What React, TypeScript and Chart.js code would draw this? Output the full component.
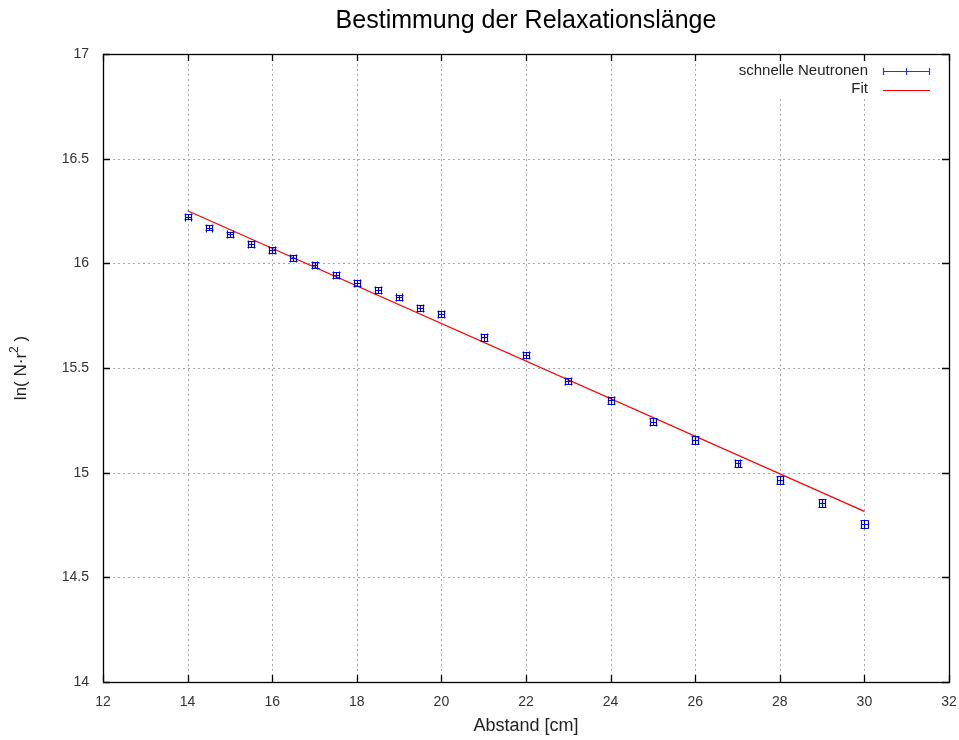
import React, { useEffect, useRef } from "react";
import { Chart, registerables } from "chart.js";

Chart.register(...registerables);

const xValues = [14, 14.5, 15, 15.5, 16, 16.5, 17, 17.5, 18, 18.5, 19, 19.5, 20, 21, 22, 23, 24, 25, 26, 27, 28, 29, 30];
const yValues = [16.223, 16.17, 16.139, 16.092, 16.064, 16.025, 15.993, 15.943, 15.904, 15.871, 15.837, 15.785, 15.758, 15.646, 15.563, 15.438, 15.345, 15.243, 15.156, 15.044, 14.965, 14.856, 14.753];
const xErrors = [0.07, 0.07, 0.07, 0.07, 0.07, 0.07, 0.07, 0.07, 0.07, 0.07, 0.07, 0.07, 0.07, 0.07, 0.07, 0.07, 0.07, 0.07, 0.07, 0.07, 0.07, 0.07, 0.08];
const yErrors = [0.013, 0.013, 0.013, 0.013, 0.013, 0.013, 0.014, 0.014, 0.014, 0.014, 0.014, 0.014, 0.015, 0.015, 0.015, 0.016, 0.016, 0.016, 0.017, 0.017, 0.018, 0.018, 0.019];
const fitX = [14, 30];
const fitY = [16.251, 14.815];
const xTicks = [12, 14, 16, 18, 20, 22, 24, 26, 28, 30, 32];
const yTicks = [14, 14.5, 15, 15.5, 16, 16.5, 17];

const TITLE = "Bestimmung der Relaxationslänge";
const XLABEL = "Abstand [cm]";
const YLABEL_MAIN = "ln( N·r";
const YLABEL_SUP = "2";
const YLABEL_END = " )";
const SERIES1 = "schnelle Neutronen";
const SERIES2 = "Fit";

const BLUE = "#0000d0";
const RED = "#ff0000";
const FONT = "'Liberation Sans', Arial, sans-serif";

const gnuplotPlugin = {
  id: "gnuplotDecor",
  beforeDatasetsDraw(chart: any) {
    const { ctx, chartArea: a, scales } = chart;
    const xs = scales.x, ys = scales.y;
    ctx.save();
    ctx.strokeStyle = "#a8a8a8";
    ctx.lineWidth = 1;
    ctx.setLineDash([2, 3]);
    for (const t of xTicks) {
      if (t === xTicks[0] || t === xTicks[xTicks.length - 1]) continue;
      const px = Math.round(xs.getPixelForValue(t)) + 0.5;
      ctx.beginPath();
      ctx.moveTo(px, a.top);
      ctx.lineTo(px, a.bottom);
      ctx.stroke();
    }
    for (const t of yTicks) {
      if (t === yTicks[0] || t === yTicks[yTicks.length - 1]) continue;
      const py = Math.round(ys.getPixelForValue(t)) + 0.5;
      ctx.beginPath();
      ctx.moveTo(a.left, py);
      ctx.lineTo(a.right, py);
      ctx.stroke();
    }
    ctx.setLineDash([]);
    ctx.fillStyle = "#ffffff";
    ctx.fillRect(725, a.top + 1, a.right - 725 - 1, 43);
    ctx.strokeStyle = "#000000";
    ctx.lineWidth = 1.3;
    ctx.strokeRect(Math.round(a.left) + 0.5, Math.round(a.top) + 0.5, Math.round(a.right - a.left), Math.round(a.bottom - a.top));
    const tl = 7;
    for (const t of xTicks) {
      const px = Math.round(xs.getPixelForValue(t)) + 0.5;
      ctx.beginPath();
      ctx.moveTo(px, a.bottom);
      ctx.lineTo(px, a.bottom - tl);
      ctx.moveTo(px, a.top);
      ctx.lineTo(px, a.top + tl);
      ctx.stroke();
    }
    for (const t of yTicks) {
      const py = Math.round(ys.getPixelForValue(t)) + 0.5;
      ctx.beginPath();
      ctx.moveTo(a.left, py);
      ctx.lineTo(a.left + tl, py);
      ctx.moveTo(a.right, py);
      ctx.lineTo(a.right - tl, py);
      ctx.stroke();
    }
    ctx.restore();
  },
  afterDatasetsDraw(chart: any) {
    const { ctx, chartArea: a, scales } = chart;
    const xs = scales.x, ys = scales.y;
    ctx.save();
    ctx.strokeStyle = BLUE;
    ctx.lineWidth = 1.2;
    const cap = 4;
    for (let i = 0; i < xValues.length; i++) {
      const px = Math.round(xs.getPixelForValue(xValues[i])) + 0.5;
      const py = Math.round(ys.getPixelForValue(yValues[i])) + 0.5;
      const x1 = Math.round(xs.getPixelForValue(xValues[i] - xErrors[i])) + 0.5;
      const x2 = Math.round(xs.getPixelForValue(xValues[i] + xErrors[i])) + 0.5;
      const y1 = Math.round(ys.getPixelForValue(yValues[i] + yErrors[i])) + 0.5;
      const y2 = Math.round(ys.getPixelForValue(yValues[i] - yErrors[i])) + 0.5;
      ctx.beginPath();
      ctx.moveTo(x1, py); ctx.lineTo(x2, py);
      ctx.moveTo(x1, py - cap); ctx.lineTo(x1, py + cap);
      ctx.moveTo(x2, py - cap); ctx.lineTo(x2, py + cap);
      ctx.moveTo(px, y1); ctx.lineTo(px, y2);
      ctx.moveTo(px - cap, y1); ctx.lineTo(px + cap, y1);
      ctx.moveTo(px - cap, y2); ctx.lineTo(px + cap, y2);
      ctx.stroke();
    }
    // legend
    ctx.font = `15px ${FONT}`;
    ctx.fillStyle = "#222";
    ctx.textAlign = "right";
    ctx.textBaseline = "middle";
    ctx.fillText(SERIES1, 868, 71);
    ctx.fillText(SERIES2, 868, 89);
    ctx.strokeStyle = "#3030e0";
    ctx.lineWidth = 1.2;
    ctx.beginPath();
    ctx.moveTo(883, 71.5); ctx.lineTo(930, 71.5);
    ctx.moveTo(883.5, 68); ctx.lineTo(883.5, 75);
    ctx.moveTo(906.5, 68); ctx.lineTo(906.5, 75);
    ctx.moveTo(929.5, 68); ctx.lineTo(929.5, 75);
    ctx.stroke();
    ctx.strokeStyle = RED;
    ctx.beginPath();
    ctx.moveTo(883, 90.5); ctx.lineTo(930, 90.5);
    ctx.stroke();
    // titles
    ctx.fillStyle = "#000";
    ctx.textAlign = "center";
    ctx.font = `25px ${FONT}`;
    ctx.fillText(TITLE, (a.left + a.right) / 2, 21);
    ctx.font = `18px ${FONT}`;
    ctx.fillStyle = "#222";
    ctx.fillText(XLABEL, (a.left + a.right) / 2, 726);
    ctx.translate(21, (a.top + a.bottom) / 2);
    ctx.rotate(-Math.PI / 2);
    ctx.font = `17px ${FONT}`;
    const w1 = ctx.measureText(YLABEL_MAIN).width;
    const w3 = ctx.measureText(YLABEL_END).width;
    ctx.font = `12px ${FONT}`;
    const w2 = ctx.measureText(YLABEL_SUP).width;
    const total = w1 + w2 + w3;
    let cx = -total / 2;
    ctx.textAlign = "left";
    ctx.font = `17px ${FONT}`;
    ctx.fillText(YLABEL_MAIN, cx, 0);
    cx += w1;
    ctx.font = `12px ${FONT}`;
    ctx.fillText(YLABEL_SUP, cx, -6);
    cx += w2;
    ctx.font = `17px ${FONT}`;
    ctx.fillText(YLABEL_END, cx, 0);
    ctx.restore();
  },
};

export default function App() {
  const ref = useRef<HTMLCanvasElement | null>(null);
  useEffect(() => {
    document.body.style.margin = "0";
    const canvas = ref.current;
    if (!canvas) return;
    const chart = new Chart(canvas, {
      type: "scatter",
      data: {
        datasets: [
          {
            label: SERIES1,
            data: xValues.map((x, i) => ({ x, y: yValues[i] })),
            pointRadius: 0,
            showLine: false,
          },
          {
            label: SERIES2,
            data: fitX.map((x, i) => ({ x, y: fitY[i] })),
            showLine: true,
            pointRadius: 0,
            borderColor: RED,
            borderWidth: 1.2,
          },
        ],
      },
      options: {
        responsive: false,
        animation: false,
        devicePixelRatio: 1,
        layout: { padding: { top: 54, right: 10, left: 0, bottom: 0 } },
        plugins: { legend: { display: false }, title: { display: false }, tooltip: { enabled: false } },
        scales: {
          x: {
            type: "linear",
            min: 12,
            max: 32,
            afterBuildTicks: (s: any) => { s.ticks = xTicks.map((v) => ({ value: v })); },
            afterFit: (s: any) => { s.height = 58; s.paddingLeft = 0; s.paddingRight = 0; },
            grid: { display: false, drawTicks: false },
            border: { display: false },
            ticks: { color: "#333", font: { size: 14, family: FONT }, padding: 12, maxRotation: 0, autoSkip: false, callback: (v: any) => String(v) },
          },
          y: {
            type: "linear",
            min: 14,
            max: 17,
            afterBuildTicks: (s: any) => { s.ticks = yTicks.map((v) => ({ value: v })); },
            afterFit: (s: any) => { s.width = 103; s.paddingTop = 0; s.paddingBottom = 0; },
            grid: { display: false, drawTicks: false },
            border: { display: false },
            ticks: { color: "#333", font: { size: 14, family: FONT }, padding: 14, autoSkip: false, callback: (v: any) => String(v) },
          },
        },
      },
      plugins: [gnuplotPlugin],
    });
    return () => chart.destroy();
  }, []);
  return <canvas ref={ref} width={959} height={740} style={{ display: "block" }} />;
}
